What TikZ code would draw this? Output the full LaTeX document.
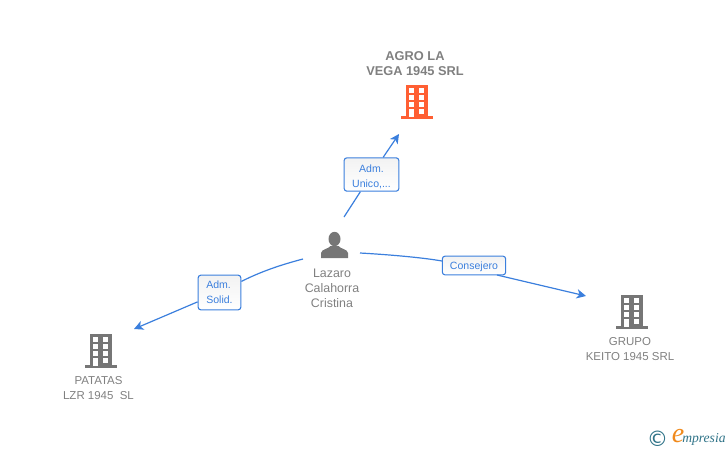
\documentclass[tikz,border=0pt]{standalone}
\usepackage{fontspec}
\setmainfont{Liberation Sans}
\newfontfamily\logofont{Liberation Serif}
\newfontfamily\symfont{DejaVu Sans}
\usepackage{tikz}
\usetikzlibrary{arrows.meta}
\definecolor{linkblue}{HTML}{3B7FDD}
\definecolor{namegrey}{HTML}{808080}
\definecolor{icongrey}{HTML}{767676}
\definecolor{mainred}{HTML}{FF5F33}
\definecolor{logoteal}{HTML}{2F7388}
\definecolor{logoorange}{HTML}{F08A1D}
\newcommand{\tagstrut}[1]{\rule{0pt}{#1}}
\tikzstyle{plainname} = [text=namegrey, align=center, inner sep=0pt,
font=\fontsize{8.6}{11.25}\selectfont]
\tikzstyle{personname} = [plainname, font=\fontsize{9.3}{11.25}\selectfont]
\tikzstyle{mainname} = [plainname, font=\fontsize{9.6}{11.25}\selectfont\bfseries]
\tikzstyle{tag} = [rectangle, rounded corners=2pt,
draw=linkblue, top color=black!5, bottom color=white,
text=linkblue, inner sep=0pt, line width=0.8pt,
font=\fontsize{7.9}{11.25}\selectfont]
\tikzstyle{arrow} = [draw=linkblue, line width=0.9pt, -{Stealth[length=7pt, width=7pt, inset=2pt]}]
\tikzstyle{link} = [draw=linkblue, line width=0.9pt]
\tikzset{
building/.pic={
\path [pic actions] (-11,-34) rectangle (11,-2);
\path [pic actions] (-16,-3) rectangle (16,0);
\foreach \y in {-31,-24,-17}{
\fill [white] (-8,\y) rectangle (-3,\y+5);
\fill [white] (2,\y) rectangle (7,\y+5);
}
\fill [white] (-8,-10) rectangle (-3,-2);
\fill [white] (2,-10) rectangle (7,-5);
},
person/.pic={
\path [pic actions] (0,-19) ellipse (6 and 7.2);
\path [pic actions] (-13.5,0) -- (-13.5,-5) .. controls (-13,-9) and (-6,-9) .. (-4,-12)
-- (4,-12) .. controls (6,-9) and (13,-9) .. (13.5,-5) -- (13.5,0) -- cycle;
}
}

\begin{document}
\begin{tikzpicture}[x=0.75pt, y=-0.75pt]
\useasboundingbox (0,0) rectangle (728,450);

\node (agro-name) [mainname] at (415,63.5) {AGRO LA\\VEGA 1945 SRL};
\node (lazaro-name) [personname] at (332,288) {Lazaro\\Calahorra\\Cristina};
\node (patatas-name) [plainname] at (98.5,388.5) {PATATAS\\LZR 1945\ \ SL};
\node (grupo-name) [plainname] at (630,349.5) {GRUPO\\KEITO 1945 SRL};

\pic [fill=mainred] at (417,119) {building};
\pic [fill=icongrey] at (100.5,368) {building};
\pic [fill=icongrey] at (632,329) {building};
\pic [fill=icongrey] at (334.5,258) {person};

\node (adm-unico) [tag, minimum width=41pt, minimum height=25pt, align=center] at (371.5,174.5) {\tagstrut{9.5pt}Adm.\\Unico,...};
\node (adm-solid) [tag, minimum width=32pt, minimum height=26pt, align=left] at (219.5,292.5) {Adm.\\Solid.};
\node (consejero) [tag, minimum width=47.5pt, minimum height=14pt] at (474,265.5) {\tagstrut{7.5pt}Consejero};

\coordinate (lazaro-top) at (344,217);
\coordinate (lazaro-left) at (303,259);
\coordinate (lazaro-right) at (360,253);
\coordinate (agro-in) at (399,134);
\coordinate (patatas-in) at (134,329);
\coordinate (grupo-in) at (586,296);
\coordinate (consejero-in) at (442,261);
\coordinate (consejero-out) at (497,275);

\draw [link] (lazaro-top) -- (adm-unico);
\draw [arrow] (adm-unico) -- (agro-in);
\draw [link] (lazaro-left) .. controls (280,265) and (260,272) .. (adm-solid);
\draw [arrow] (adm-solid) -- (patatas-in);
\draw [link] (lazaro-right) .. controls (395,255) and (425,258) .. (consejero-in);
\draw [arrow] (consejero-out) -- (grupo-in);

% logo
\node (logo-c) [text=logoteal, inner sep=0pt, font=\symfont\fontsize{16}{16}\selectfont] at (657.5,438.5) {©};
\node (logo-e) [text=logoorange, inner sep=0pt, font=\logofont\itshape\fontsize{21}{21}\selectfont] at (678,436) {e};
\node (logo-text) [text=logoteal, inner sep=0pt, anchor=west, font=\logofont\itshape\fontsize{10.2}{10.2}\selectfont] at (682,439) {mpresia};
\end{tikzpicture}
\end{document}
